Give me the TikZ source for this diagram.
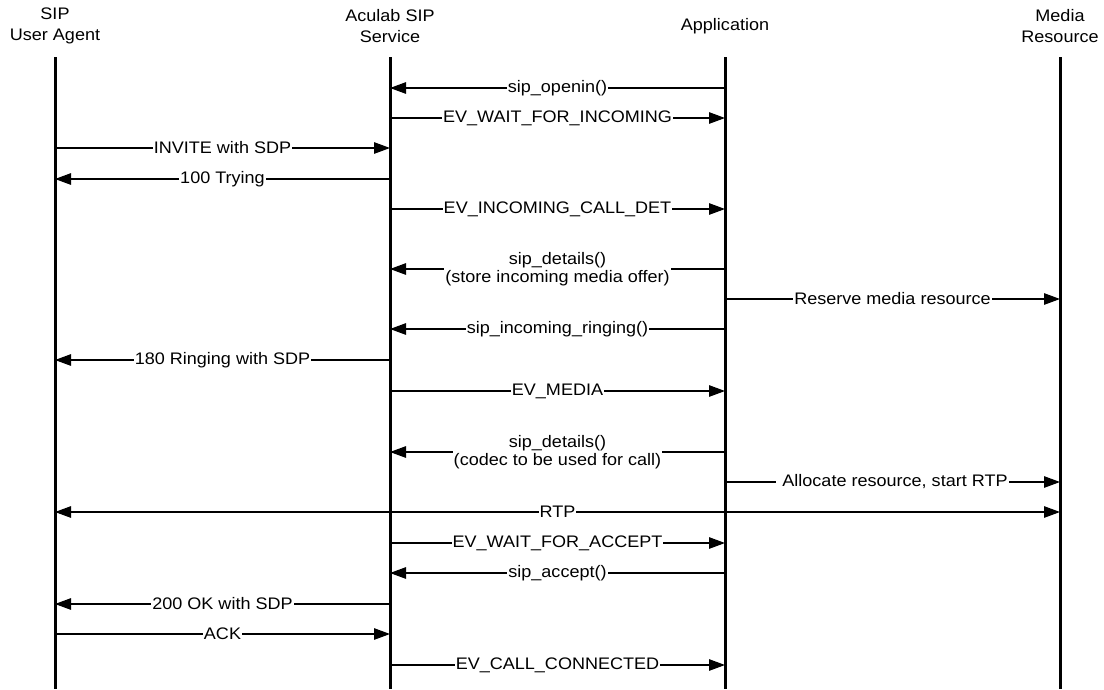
\documentclass[tikz,border=0pt]{standalone}
\usepackage{fontspec}
\setmainfont{Liberation Sans}[FakeStretch=1.08]
\usetikzlibrary{arrows.meta}

\tikzset{
  lifeline/.style={line width=3pt},
  msg/.style={line width=1.2pt, -{Triangle[length=16pt,width=11.5pt]}},
  bothway/.style={line width=1.2pt, {Triangle[length=16pt,width=11.5pt]}-{Triangle[length=16pt,width=11.5pt]}},
  lbl/.style={fill=white, inner xsep=1pt, inner ysep=0.5pt, align=center,
              font=\fontsize{16.7}{18}\selectfont},
  head/.style={align=center, font=\fontsize{16.7}{21}\selectfont},
}

% one message: name, y, x from, x to, label
\newcommand\sigmsg[5]{%
  \coordinate (#1s) at (#3,#2);
  \coordinate (#1e) at (#4,#2);
  \draw[msg] (#1s) -- node[lbl] (#1l) {#5} (#1e);
}

\begin{document}
\begin{tikzpicture}[x=1pt,y=-1pt]
  \useasboundingbox (0,0) rectangle (1104,689);

  % participants
  \node[head] (ua)  at (55,26)   {SIP\\User Agent};
  \node[head] (svc) at (390,26)  {Aculab SIP\\Service};
  \node[head] (app) at (725,26)  {Application};
  \node[head] (med) at (1060,26) {Media\\Resource};

  % lifelines
  \foreach \n/\x in {ua/55, svc/390, app/725, med/1060} {
    \coordinate (\n top) at (\x,57);
    \coordinate (\n bot) at (\x,689);
    \draw[lifeline] (\n top) -- (\n bot);
  }

  % call flow
  \sigmsg{m1}{88}{725}{390}{sip\_openin()}
  \sigmsg{m2}{118}{390}{725}{EV\_WAIT\_FOR\_INCOMING}
  \sigmsg{m3}{148}{55}{390}{INVITE with SDP}
  \sigmsg{m4}{179}{390}{55}{100 Trying}
  \sigmsg{m5}{209}{390}{725}{EV\_INCOMING\_CALL\_DET}
  \sigmsg{m6}{269}{725}{390}{sip\_details()\\(store incoming media offer)}
  \sigmsg{m7}{299}{725}{1060}{Reserve media resource}
  \sigmsg{m8}{329}{725}{390}{sip\_incoming\_ringing()}
  \sigmsg{m9}{360}{390}{55}{180 Ringing with SDP}
  \sigmsg{m10}{391}{390}{725}{EV\_MEDIA}
  \sigmsg{m11}{452}{725}{390}{sip\_details()\\(codec to be used for call)}
  \sigmsg{m12}{482}{725}{1060}{\ Allocate resource, start RTP}

  % media stream in both directions
  \coordinate (rtps) at (55,512);
  \coordinate (rtpe) at (1060,512);
  \draw[bothway] (rtps) -- node[lbl] (rtpl) {RTP} (rtpe);

  \sigmsg{m14}{543}{390}{725}{EV\_WAIT\_FOR\_ACCEPT}
  \sigmsg{m15}{573}{725}{390}{sip\_accept()}
  \sigmsg{m16}{604}{390}{55}{200 OK with SDP}
  \sigmsg{m17}{634}{55}{390}{ACK}
  \sigmsg{m18}{665}{390}{725}{EV\_CALL\_CONNECTED}
\end{tikzpicture}
\end{document}
